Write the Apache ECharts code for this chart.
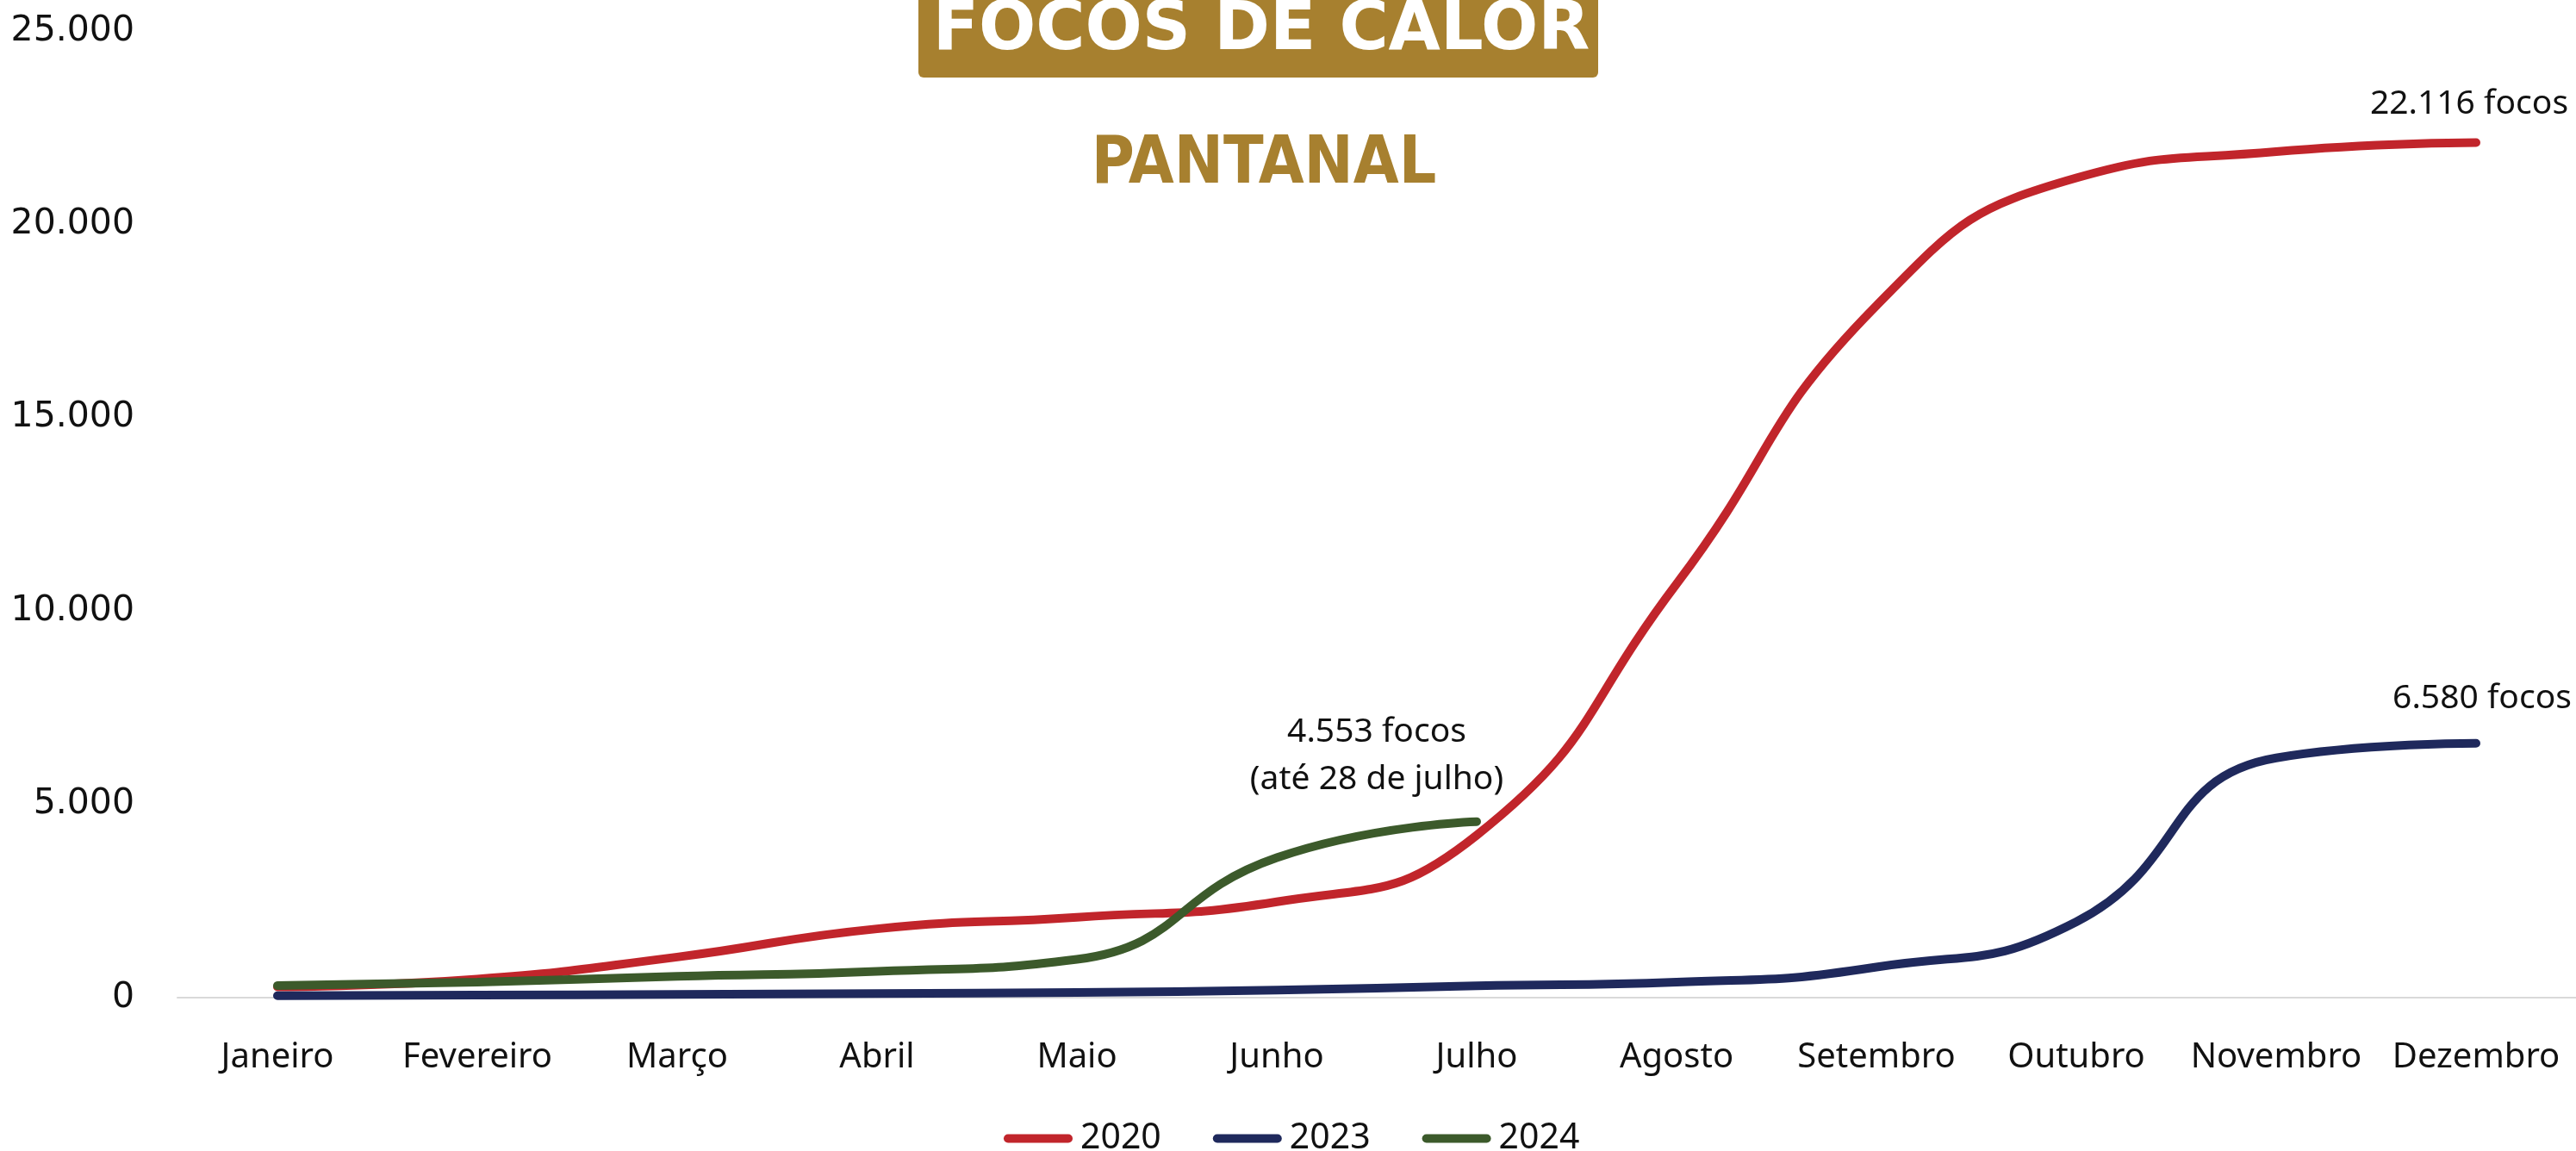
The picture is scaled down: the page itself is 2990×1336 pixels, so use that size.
<!DOCTYPE html>
<html>
<head>
<meta charset="utf-8">
<script src="https://cdn.jsdelivr.net/npm/echarts@6/dist/echarts.min.js"></script>
<style>
html,body{margin:0;padding:0;background:#fff;}
#chart{width:2990px;height:1336px;}
</style>
</head>
<body>
<div id="chart"></div>
<script>
const months = ['Janeiro','Fevereiro','Março','Abril','Maio','Junho','Julho','Agosto','Setembro','Outubro','Novembro','Dezembro'];
const seriesNames = ['2020','2023','2024'];
const values2020 = [280, 480, 1050, 1780, 2080, 2480, 4200, 10700, 17900, 21200, 21880, 22116];
const values2023 = [50, 65, 85, 105, 135, 195, 305, 400, 790, 1960, 6200, 6580];
const values2024 = [310, 400, 550, 680, 990, 3620, 4553];
const yTicks = [0, 5000, 10000, 15000, 20000, 25000];
const endNotes = ['22.116 focos', '6.580 focos', '4.553 focos\n(até 28 de julho)'];
const colors = ['#C1252B', '#1F295C', '#3C5A2B'];

function withEndLabel(vals, text, offset, lh) {
  return vals.map((v, i) => {
    if (i !== vals.length - 1) return v;
    return {
      value: v,
      label: {
        show: true, position: 'top', distance: 5, offset: offset,
        formatter: text, align: 'center',
        fontFamily: 'Noto Sans', fontSize: 39, color: '#111', lineHeight: lh
      }
    };
  });
}

const chart = echarts.init(document.getElementById('chart'), null, {renderer: 'canvas'});
const fmt = v => String(v).replace(/\B(?=(\d{3})+(?!\d))/g, '.');
const lineCommon = {
  type: 'line', smooth: 0.5, showSymbol: true, symbol: 'circle', symbolSize: 0.1,
  emphasis: {disabled: true}, z: 3
};
chart.setOption({
  animation: false,
  backgroundColor: '#fff',
  grid: {left: 206, top: 36, width: 2801, height: 1122, containLabel: false},
  graphic: [
    {type: 'rect', shape: {x: 1066, y: -20, width: 789, height: 110, r: 6}, style: {fill: '#A7802F'}},
    {type: 'text', style: {text: 'FOCOS DE CALOR', x: 1464, y: 37, align: 'center', verticalAlign: 'middle',
      fill: '#fff', fontFamily: 'DejaVu Sans', fontWeight: 'bold', fontSize: 78}},
    {type: 'text', style: {text: 'PANTANAL', x: 1467, y: 192, align: 'center', verticalAlign: 'middle',
      fill: '#A7802F', fontFamily: '"Liberation Sans Narrow", "DejaVu Sans Condensed", sans-serif', fontWeight: 'bold', fontSize: 76}}
  ],
  legend: {
    left: 1160, top: 1296, itemWidth: 80, itemHeight: 10, itemGap: 60,
    icon: 'path://M5,0 H75 A5,5 0 0 1 75,10 H5 A5,5 0 0 1 5,0 Z',
    itemStyle: {opacity: 1},
    textStyle: {fontFamily: 'Noto Sans', fontSize: 41, color: '#111', padding: [0, 0, 0, 4]},
    data: seriesNames
  },
  xAxis: {
    type: 'category', data: months, boundaryGap: true,
    axisLine: {show: true, lineStyle: {color: '#D9D9D9', width: 2}},
    axisTick: {show: false},
    axisLabel: {margin: 50, fontFamily: 'Noto Sans', fontSize: 40, color: '#111', interval: 0}
  },
  yAxis: {
    type: 'value', min: yTicks[0], max: yTicks[yTicks.length - 1], interval: yTicks[1] - yTicks[0],
    axisLine: {show: false}, axisTick: {show: false}, splitLine: {show: false},
    axisLabel: {margin: 50, fontFamily: 'DejaVu Sans', fontSize: 41, color: '#111', formatter: fmt}
  },
  series: [
    Object.assign({}, lineCommon, {name: seriesNames[0], color: colors[0], itemStyle: {color: colors[0]},
      lineStyle: {color: colors[0], width: 10, cap: 'round', join: 'round'},
      data: withEndLabel(values2020, endNotes[0], [-8, -20], 39)}),
    Object.assign({}, lineCommon, {name: seriesNames[1], color: colors[1], itemStyle: {color: colors[1]},
      lineStyle: {color: colors[1], width: 10, cap: 'round', join: 'round'},
      data: withEndLabel(values2023, endNotes[1], [7, -27], 39)}),
    Object.assign({}, lineCommon, {name: seriesNames[2], color: colors[2], itemStyle: {color: colors[2]},
      lineStyle: {color: colors[2], width: 10, cap: 'round', join: 'round'},
      data: withEndLabel(values2024, endNotes[2], [-116, -16], 55)})
  ]
});
</script>
</body>
</html>
